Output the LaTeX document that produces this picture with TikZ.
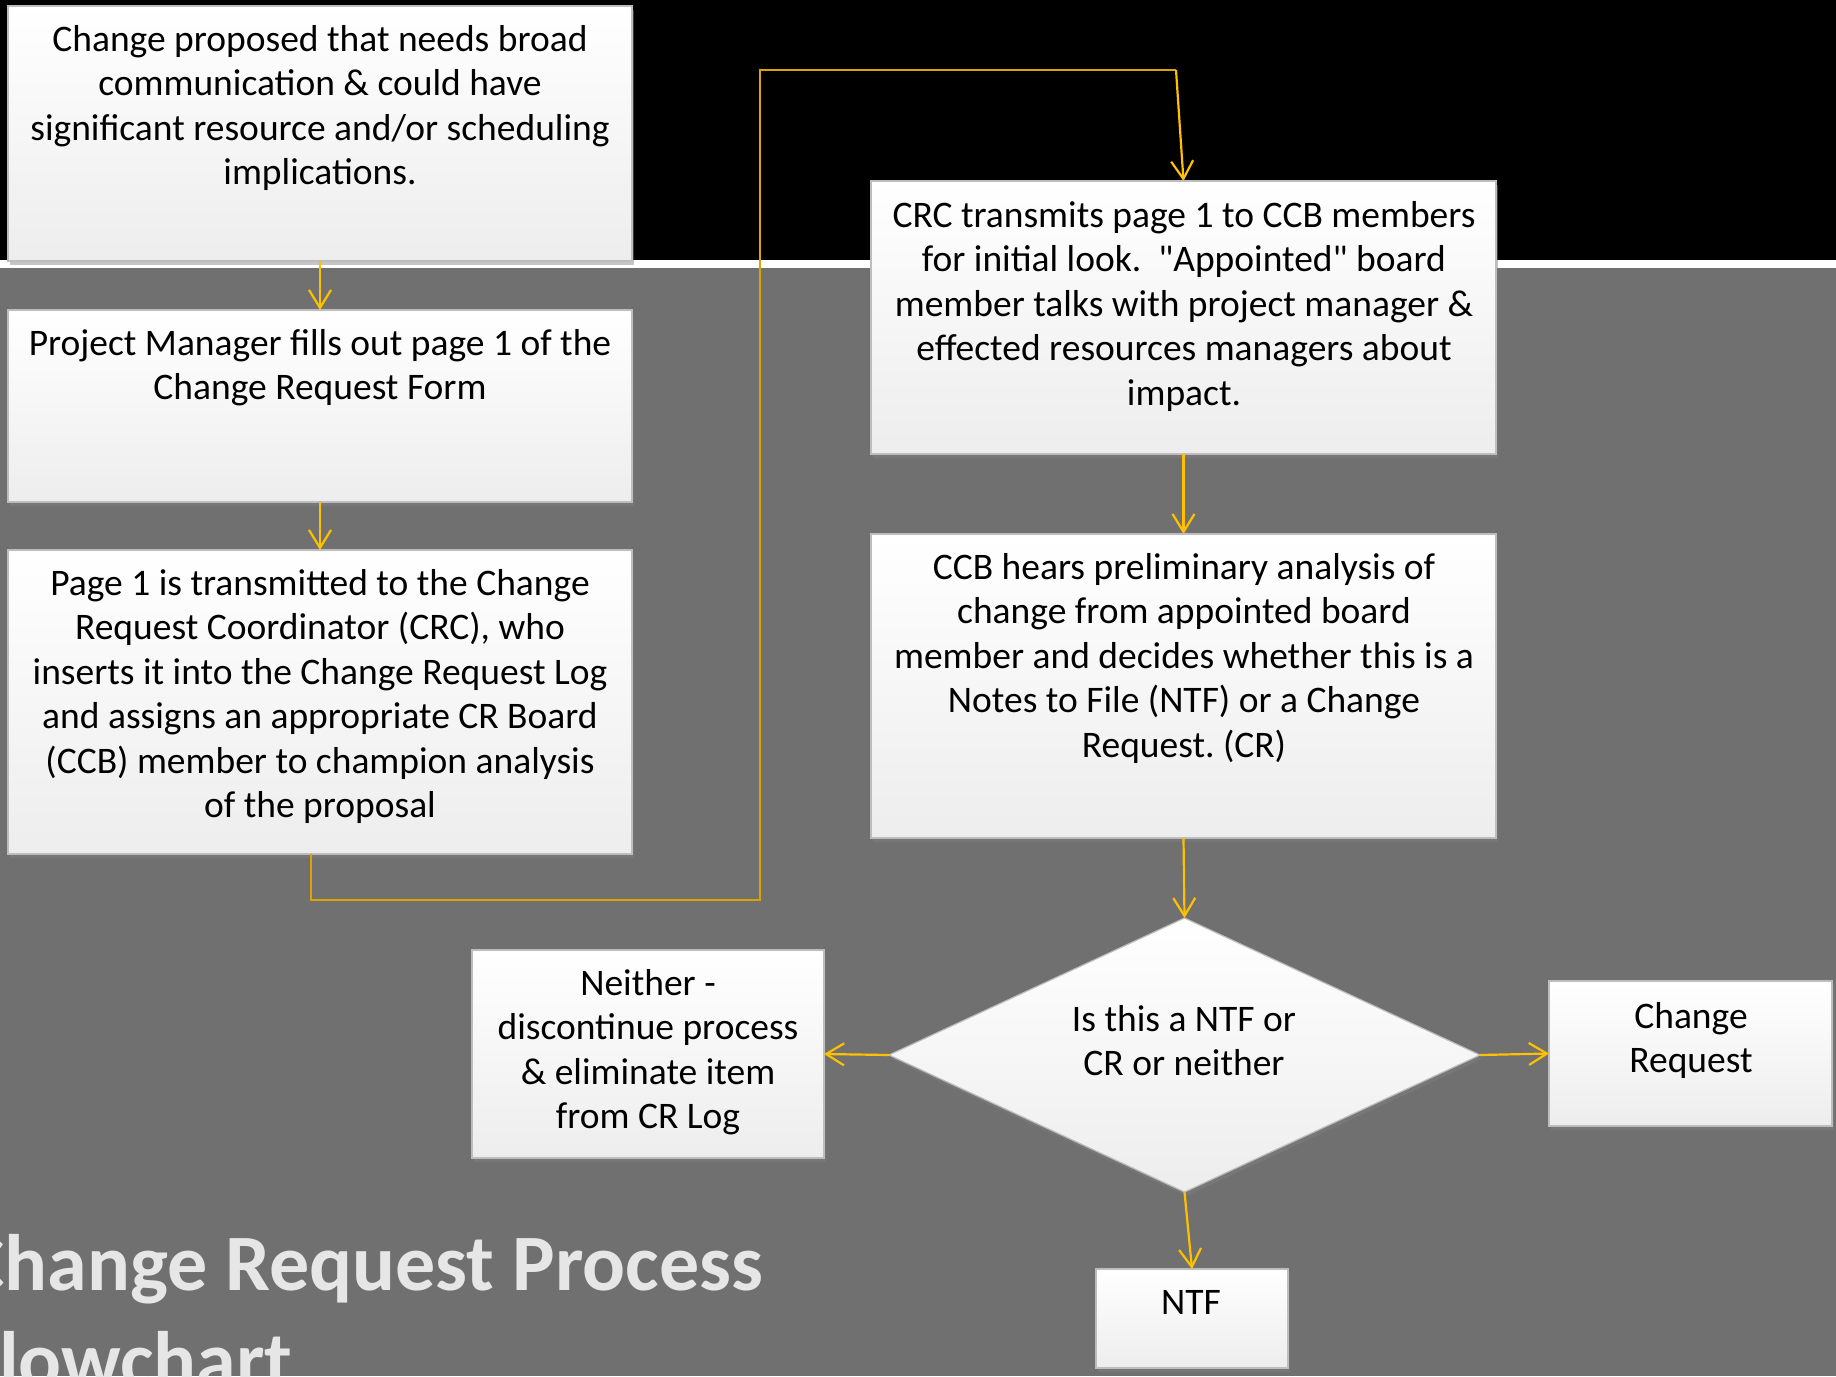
\documentclass[tikz,border=0pt]{standalone}
\usepackage{fontspec}
\setmainfont{Carlito}[Ligatures=TeXOff]
\usetikzlibrary{arrows.meta,shapes.geometric,shadows}
\definecolor{bggray}{HTML}{707070}
\definecolor{gold}{HTML}{FFC000}
\definecolor{golddark}{HTML}{D9A300}
\definecolor{boxline}{HTML}{BDBDBD}
\definecolor{titlegray}{HTML}{E6E6E6}
\frenchspacing
\tikzset{
  box/.style={draw=boxline, line width=0.6pt, top color=white, bottom color=black!7,
    drop shadow={shadow xshift=1pt, shadow yshift=-2pt, opacity=0.45},
    inner sep=0pt, outer sep=0pt},
  txt/.style={align=center, inner sep=0pt, anchor=north, text=black,
    font=\fontsize{18.75}{22.25}\selectfont},
  arr/.style={draw=gold, line width=1.1pt, -{Straight Barb[length=9pt,width=11pt,line width=1.1pt]}},
  elbow/.style={draw=golddark, line width=0.8pt},
}
\begin{document}
\begin{tikzpicture}[x=0.5pt,y=-0.5pt]
\useasboundingbox (0,0) rectangle (1836,1376);
\clip (0,0) rectangle (1836,1376);
% background
\fill[bggray] (0,0) rectangle (1836,1376);
\fill[black] (0,0) rectangle (1836,260);
\fill[white] (0,260) rectangle (1836,268);

% boxes
\node[box, minimum width=312pt, minimum height=127.5pt] (b1) at (320,133.5) {};
\node[box, minimum width=312pt, minimum height=96pt] (b2) at (320,406) {};
\node[box, minimum width=312pt, minimum height=152pt] (b3) at (320,702) {};
\node[box, minimum width=312.5pt, minimum height=136.5pt] (b4) at (1183.5,317.5) {};
\node[box, minimum width=312.5pt, minimum height=152pt] (b5) at (1183.5,686) {};
\node[box, diamond, minimum width=295.5pt, minimum height=137pt] (d) at (1184.5,1055) {};
\node[box, minimum width=176pt, minimum height=104pt] (b6) at (648,1054) {};
\node[box, minimum width=141.5pt, minimum height=72.5pt] (b7) at (1690.5,1053.5) {};
\node[box, minimum width=96pt, minimum height=49.5pt] (b8) at (1192,1318.5) {};

% texts
\node[txt] (t1) at (320,25) {Change proposed that needs broad\\communication \& could have\\significant resource and/or scheduling\\implications.};
\node[txt] (t2) at (320,329) {Project Manager fills out page 1 of the\\Change Request Form};
\node[txt] (t3) at (320,569) {Page 1 is transmitted to the Change\\Request Coordinator (CRC), who\\inserts it into the Change Request Log\\and assigns an appropriate CR Board\\(CCB) member to champion analysis\\of the proposal};
\node[txt] (t4) at (1184,201) {CRC transmits page 1 to CCB members\\for initial look.\ \ "Appointed" board\\member talks with project manager \&\\effected resources managers about\\impact.};
\node[txt] (t5) at (1184,553) {CCB hears preliminary analysis of\\change from appointed board\\member and decides whether this is a\\Notes to File (NTF) or a Change\\Request. (CR)};
\node[txt] (td) at (1184,1005) {Is this a NTF or\\CR or neither};
\node[txt] (t6) at (648,969) {Neither -\\discontinue process\\\& eliminate item\\from CR Log};
\node[txt] (t7) at (1691,1002) {Change\\Request};
\node[txt] (t8) at (1191,1290) {NTF};

% title
\node[anchor=base west, inner sep=0pt, text=titlegray, font=\fontsize{40}{48}\selectfont\bfseries] (title1) at (-38,1290) {Change Request Process};
\node[anchor=base west, inner sep=0pt, text=titlegray, font=\fontsize{40}{48}\selectfont\bfseries] (title2) at (-38,1387) {Flowchart};

% connectors
\draw[arr] (b1.south) -- (b2.north);
\draw[arr] (b2.south) -- (b3.north);
\draw[elbow] ([xshift=-4.5pt]b3.south) |- (760,900) |- (1176,70);
\draw[arr] (1176,70) -- (b4.north);
\draw[arr] (b4.south) -- (b5.north);
\draw[arr] (b5.south) -- (d.north);
\draw[arr] (d.west) -- (b6.east);
\draw[arr] (d.east) -- (b7.west);
\draw[arr] (d.south) -- (b8.north);
\end{tikzpicture}
\end{document}
